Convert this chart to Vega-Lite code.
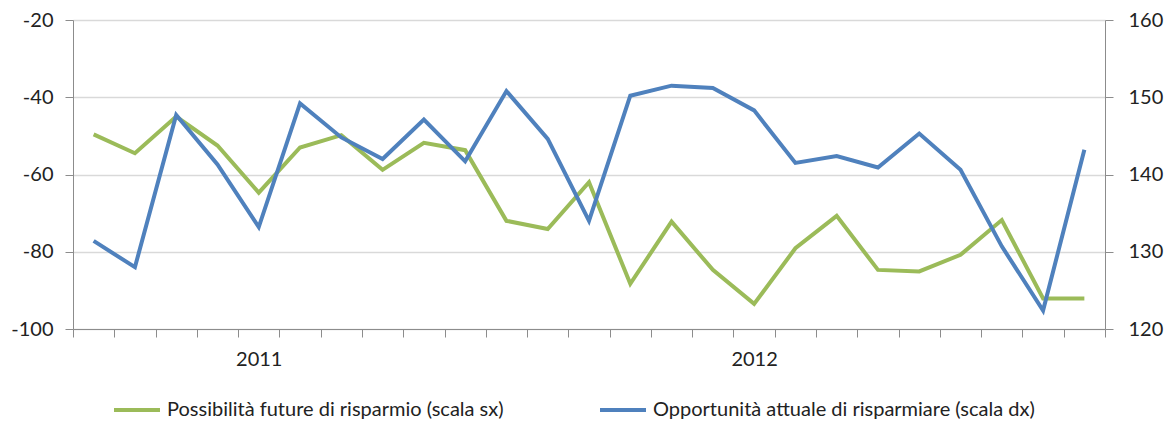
{
  "$schema": "https://vega.github.io/schema/vega-lite/v6.json",
  "width": 1032,
  "height": 309,
  "autosize": {"type": "none"},
  "padding": {"left": 73, "top": 20, "right": 59, "bottom": 92},
  "background": "white",
  "config": {
    "view": {"stroke": null},
    "font": "Lato",
    "axis": {"labelFont": "Lato", "labelColor": "#222222", "domainColor": "#8C8C8C", "tickColor": "#8C8C8C", "tickSize": 8, "labelFontSize": 20, "titleFontSize": 0},
    "legend": {"labelFont": "Lato"}
  },
  "data": {
    "values": [
      {"t": 0, "fut": -49.6, "att": 131.4},
      {"t": 1, "fut": -54.5, "att": 128.0},
      {"t": 2, "fut": -45.0, "att": 147.7},
      {"t": 3, "fut": -52.5, "att": 141.3},
      {"t": 4, "fut": -64.7, "att": 133.2},
      {"t": 5, "fut": -53.0, "att": 149.2},
      {"t": 6, "fut": -49.8, "att": 144.8},
      {"t": 7, "fut": -58.8, "att": 142.0},
      {"t": 8, "fut": -51.8, "att": 147.1},
      {"t": 9, "fut": -53.7, "att": 141.7},
      {"t": 10, "fut": -72.0, "att": 150.8},
      {"t": 11, "fut": -74.1, "att": 144.6},
      {"t": 12, "fut": -62.0, "att": 134.0},
      {"t": 13, "fut": -88.3, "att": 150.2},
      {"t": 14, "fut": -72.2, "att": 151.5},
      {"t": 15, "fut": -84.7, "att": 151.2},
      {"t": 16, "fut": -93.5, "att": 148.3},
      {"t": 17, "fut": -79.1, "att": 141.5},
      {"t": 18, "fut": -70.7, "att": 142.4},
      {"t": 19, "fut": -84.7, "att": 140.9},
      {"t": 20, "fut": -85.1, "att": 145.3},
      {"t": 21, "fut": -80.8, "att": 140.6},
      {"t": 22, "fut": -71.8, "att": 130.7},
      {"t": 23, "fut": -92.1, "att": 122.4},
      {"t": 24, "fut": -92.1, "att": 143.2}
    ]
  },
  "encoding": {
    "x": {
      "field": "t",
      "type": "ordinal",
      "scale": {"type": "band", "paddingInner": 0, "paddingOuter": 0},
      "axis": {
        "title": null,
        "tickBand": "extent",
        "labelAngle": 0,
        "labelPadding": 12,
        "labelExpr": "datum.value == 4 ? '2011' : datum.value == 16 ? '2012' : ''",
        "grid": false
      }
    }
  },
  "layer": [
    {
      "mark": {"type": "line", "strokeWidth": 4},
      "encoding": {
        "y": {
          "field": "fut",
          "type": "quantitative",
          "scale": {"domain": [-100, -20], "nice": false, "zero": false},
          "axis": {"title": null, "values": [-100, -80, -60, -40, -20], "labelExpr": "toString(datum.value)", "grid": true, "gridColor": "#D9D9D9", "gridWidth": 1.5, "labelPadding": 12}
        },
        "color": {
          "datum": "Possibilità future di risparmio (scala sx)",
          "type": "nominal",
          "scale": {
            "domain": ["Possibilità future di risparmio (scala sx)", "Opportunità attuale di risparmiare (scala dx)"],
            "range": ["#9BBB59", "#4F81BD"]
          },
          "legend": {
            "title": null,
            "orient": "none",
            "legendX": 39,
            "legendY": 365,
            "direction": "horizontal",
            "symbolType": "stroke",
            "symbolSize": 2116,
            "symbolStrokeWidth": 4,
            "labelFontSize": 20,
            "labelColor": "#222222",
            "labelOffset": 5,
            "labelLimit": 600,
            "columnPadding": 88
          }
        }
      }
    },
    {
      "mark": {"type": "line", "strokeWidth": 4},
      "encoding": {
        "y": {
          "field": "att",
          "type": "quantitative",
          "scale": {"domain": [120, 160], "nice": false, "zero": false},
          "axis": {"title": null, "orient": "right", "values": [120, 130, 140, 150, 160], "grid": false, "labelPadding": 15}
        },
        "color": {"datum": "Opportunità attuale di risparmiare (scala dx)", "type": "nominal"}
      }
    }
  ],
  "resolve": {"scale": {"y": "independent"}}
}
